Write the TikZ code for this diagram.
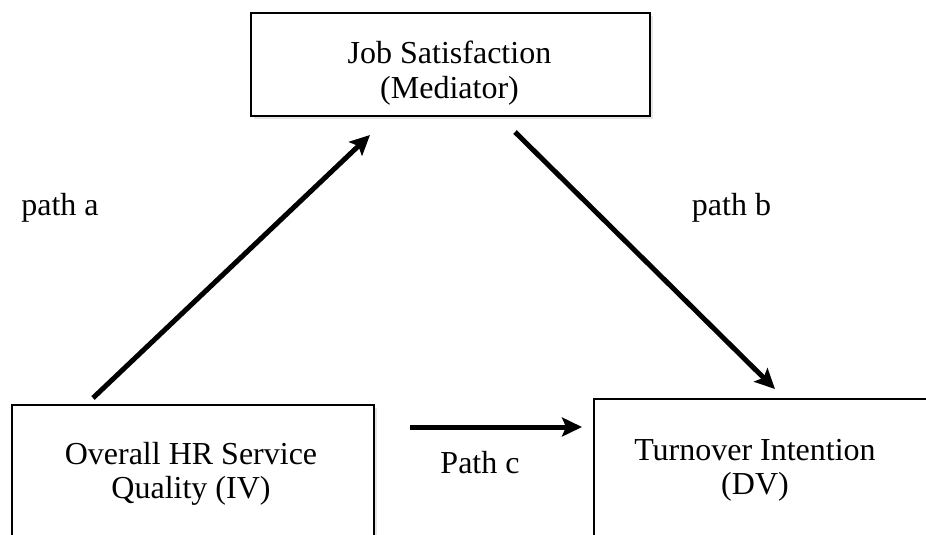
\documentclass[tikz,border=0pt]{standalone}
\usepackage{fontspec}
\setmainfont{Liberation Serif}
\usetikzlibrary{arrows.meta,shadows}
\begin{document}
\begin{tikzpicture}[x=1pt,y=-1pt,
  box/.style={draw=black,line width=2pt,fill=white,inner sep=0pt,
    drop shadow={opacity=0.2,shadow xshift=3pt,shadow yshift=-3pt}},
  boxtext/.style={align=center,font=\fontsize{32}{34.5}\selectfont,inner sep=0pt},
  lbl/.style={anchor=base,font=\fontsize{32}{34.5}\selectfont,inner sep=0pt},
  arr/.style={line width=5pt,-{Stealth[length=20pt,width=19pt,inset=4pt]}}]
\useasboundingbox (0,0) rectangle (926,535);
\path[fill=white] (0,0) rectangle (926,535);
% boxes
\node[box, minimum width=399pt, minimum height=103pt, anchor=north west] (js) at (250,12) {};
\node[box, minimum width=362pt, minimum height=160pt, anchor=north west] (iv) at (11,404) {};
\node[box, minimum width=345pt, minimum height=165pt, anchor=north west] (dv) at (593,398) {};
% box texts
\node[boxtext] (jst) at (449.5,73) {Job Satisfaction\\(Mediator)};
\node[boxtext] (ivt) at (191,474) {Overall HR Service\\Quality (IV)};
\node[boxtext] (dvt) at (755,470.5) {Turnover Intention\\(DV)};
% labels
\node[lbl] (pa) at (60,215) {path a};
\node[lbl] (pb) at (731.5,215) {path b};
\node[lbl] (pc) at (480,473) {Path c};
% arrows
\coordinate (a0) at (93,398);
\coordinate (a1) at (370,135);
\coordinate (b0) at (515,132);
\coordinate (b1) at (775,389);
\coordinate (c0) at (410,427);
\coordinate (c1) at (582,427);
\draw[arr] (a0) -- (a1);
\draw[arr] (b0) -- (b1);
\draw[arr] (c0) -- (c1);
\end{tikzpicture}
\end{document}
